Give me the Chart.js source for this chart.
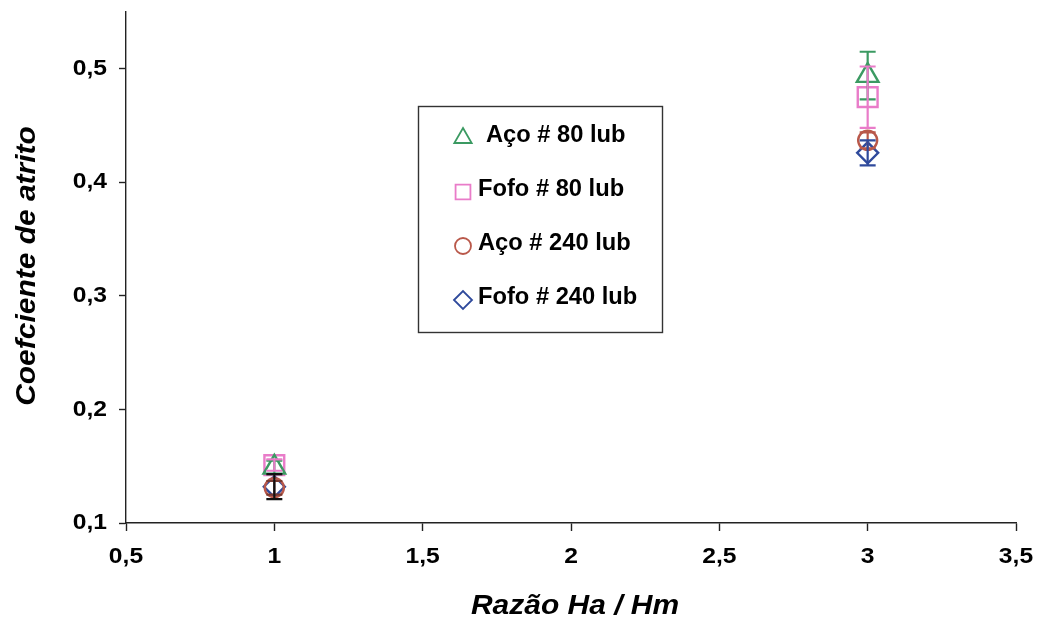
<!DOCTYPE html>
<html>
<head>
<meta charset="utf-8">
<script src="https://cdn.jsdelivr.net/npm/chart.js@4/dist/chart.umd.min.js"></script>
<style>
  html, body { margin: 0; padding: 0; background: #fff; }
  #wrap { width: 1039px; height: 622px; }
</style>
</head>
<body>
<div id="wrap"><canvas id="c" width="1039" height="622"></canvas></div>
<script>
// Razão Ha/Hm tested
const ratios = [1, 3];

// Friction coefficient means and their error half-widths
const acoLub80 = [0.149, 0.494];
const acoLub80Err = [0.006, 0.021];
const fofoLub80 = [0.151, 0.475];
const fofoLub80Err = [0.005, 0.027];
const acoLub240 = [0.131, 0.437];
const acoLub240Err = [0.006, 0.007];
const fofoLub240 = [0.132, 0.426];
const fofoLub240Err = [0.011, 0.011];

const seriesNames = ['Aço # 80 lub', 'Fofo # 80 lub', 'Aço # 240 lub', 'Fofo # 240 lub'];

const xTicks = [0.5, 1, 1.5, 2, 2.5, 3, 3.5];
const xTickLabels = ['0,5', '1', '1,5', '2', '2,5', '3', '3,5'];
const yTicks = [0.1, 0.2, 0.3, 0.4, 0.5];
const yTickLabels = ['0,1', '0,2', '0,3', '0,4', '0,5'];

const colors = ['#3b9a62', '#e97cc9', '#b9584a', '#2f4a9c'];
const errColors = [
  ['#3b9a62', '#3b9a62'],
  ['#e97cc9', '#e97cc9'],
  ['#7a3a30', '#b9584a'],
  ['#111111', '#2f4a9c']
];
const styles = ['triangle', 'rect', 'circle', 'rectRot'];
const radii = [12.5, 14, 9.5, 10.5];

const values = [acoLub80, fofoLub80, acoLub240, fofoLub240];
const errors = [acoLub80Err, fofoLub80Err, acoLub240Err, fofoLub240Err];

const FONT = '"Liberation Sans", Arial, sans-serif';

const datasets = values.map((vals, i) => ({
  label: seriesNames[i],
  data: ratios.map((x, j) => ({ x: x, y: vals[j] })),
  pointStyle: styles[i],
  pointRadius: radii[i],
  pointHoverRadius: radii[i],
  pointBorderWidth: 2.4,
  borderColor: colors[i],
  backgroundColor: 'rgba(0,0,0,0)',
  showLine: false
}));

// draw text slightly widened horizontally
function wideText(ctx, text, x, y, sx, align) {
  ctx.save();
  ctx.translate(x, y);
  ctx.scale(sx, 1);
  ctx.textAlign = align;
  ctx.fillText(text, 0, 0);
  ctx.restore();
}

// vertical error bars with caps, placed through the chart scales
const errorBars = {
  id: 'errorBars',
  afterDatasetsDraw(chart) {
    const ctx = chart.ctx;
    const xs = chart.scales.x, ys = chart.scales.y;
    ctx.save();
    ctx.lineWidth = 2.2;
    values.forEach((vals, i) => {
      vals.forEach((v, j) => {
        const e = errors[i][j];
        const px = xs.getPixelForValue(ratios[j]);
        const top = ys.getPixelForValue(v + e);
        const bot = ys.getPixelForValue(v - e);
        ctx.strokeStyle = errColors[i][j];
        ctx.beginPath();
        ctx.moveTo(px, top); ctx.lineTo(px, bot);
        ctx.moveTo(px - 8, top); ctx.lineTo(px + 8, top);
        ctx.moveTo(px - 8, bot); ctx.lineTo(px + 8, bot);
        ctx.stroke();
      });
    });
    ctx.restore();
  }
};

// tick labels written at the scale positions
const tickLabels = {
  id: 'tickLabels',
  afterDraw(chart) {
    const ctx = chart.ctx;
    const xs = chart.scales.x, ys = chart.scales.y;
    ctx.save();
    ctx.fillStyle = '#000';
    ctx.font = 'bold 22px ' + FONT;
    ctx.textBaseline = 'middle';
    xTicks.forEach((v, i) => {
      wideText(ctx, xTickLabels[i], xs.getPixelForValue(v), 557, 1.12, 'center');
    });
    yTicks.forEach((v, i) => {
      wideText(ctx, yTickLabels[i], 107, ys.getPixelForValue(v), 1.12, 'right');
    });
    ctx.restore();
  }
};

// boxed legend inside the plot area
const boxLegend = {
  id: 'boxLegend',
  afterDraw(chart) {
    const ctx = chart.ctx;
    const left = 418, top = 106, w = 244, h = 226;
    ctx.save();
    ctx.fillStyle = '#fff';
    ctx.fillRect(left, top, w, h);
    ctx.strokeStyle = '#333';
    ctx.lineWidth = 1.4;
    ctx.strokeRect(left + 0.5, top + 0.5, w, h);
    const rowsY = [136, 190, 244, 298];
    const textX = [486, 478, 478, 478];
    const legendR = [10, 10.5, 8, 9];
    seriesNames.forEach((name, i) => {
      ctx.strokeStyle = colors[i];
      ctx.fillStyle = 'rgba(0,0,0,0)';
      ctx.lineWidth = 1.8;
      Chart.helpers.drawPoint(ctx, { pointStyle: styles[i], radius: legendR[i], rotation: 0, borderWidth: 1.8 }, 463, rowsY[i] + 2);
      ctx.fillStyle = '#000';
      ctx.font = 'bold 23px ' + FONT;
      ctx.textBaseline = 'middle';
      wideText(ctx, name, textX[i], rowsY[i], 1.03, 'left');
    });
    ctx.restore();
  }
};

// axis titles
const axisTitles = {
  id: 'axisTitles',
  afterDraw(chart) {
    const ctx = chart.ctx;
    ctx.save();
    ctx.fillStyle = '#000';
    ctx.font = 'italic bold 28px ' + FONT;
    ctx.textBaseline = 'middle';
    wideText(ctx, 'Razão Ha / Hm', 575, 606, 1.07, 'center');
    ctx.translate(27, 266);
    ctx.rotate(-Math.PI / 2);
    ctx.font = 'italic bold 28px ' + FONT;
    wideText(ctx, 'Coefciente de atrito', 0, 0, 1.07, 'center');
    ctx.restore();
  }
};

new Chart(document.getElementById('c'), {
  type: 'scatter',
  data: { datasets: datasets },
  options: {
    responsive: false,
    animation: false,
    events: [],
    layout: { autoPadding: false, padding: { top: 12, right: 23, left: 0, bottom: 0 } },
    plugins: { legend: { display: false }, tooltip: { enabled: false } },
    scales: {
      x: {
        type: 'linear',
        min: 0.5,
        max: 3.5,
        afterBuildTicks(scale) { scale.ticks = xTicks.map(v => ({ value: v })); },
        afterFit(scale) { scale.height = 99; scale.paddingLeft = 0; scale.paddingRight = 0; },
        grid: { display: true, drawOnChartArea: false, color: '#222', tickLength: 8, tickWidth: 1.4 },
        border: { display: true, color: '#222', width: 1.4 },
        ticks: { display: false }
      },
      y: {
        type: 'linear',
        min: 0.1,
        max: 0.55,
        afterBuildTicks(scale) { scale.ticks = yTicks.map(v => ({ value: v })); },
        afterFit(scale) { scale.width = 126; scale.paddingTop = 0; scale.paddingBottom = 0; },
        grid: { display: true, drawOnChartArea: false, color: '#222', tickLength: 7, tickWidth: 1.4 },
        border: { display: true, color: '#222', width: 1.4 },
        ticks: { display: false }
      }
    }
  },
  plugins: [errorBars, tickLabels, boxLegend, axisTitles]
});
</script>
</body>
</html>
